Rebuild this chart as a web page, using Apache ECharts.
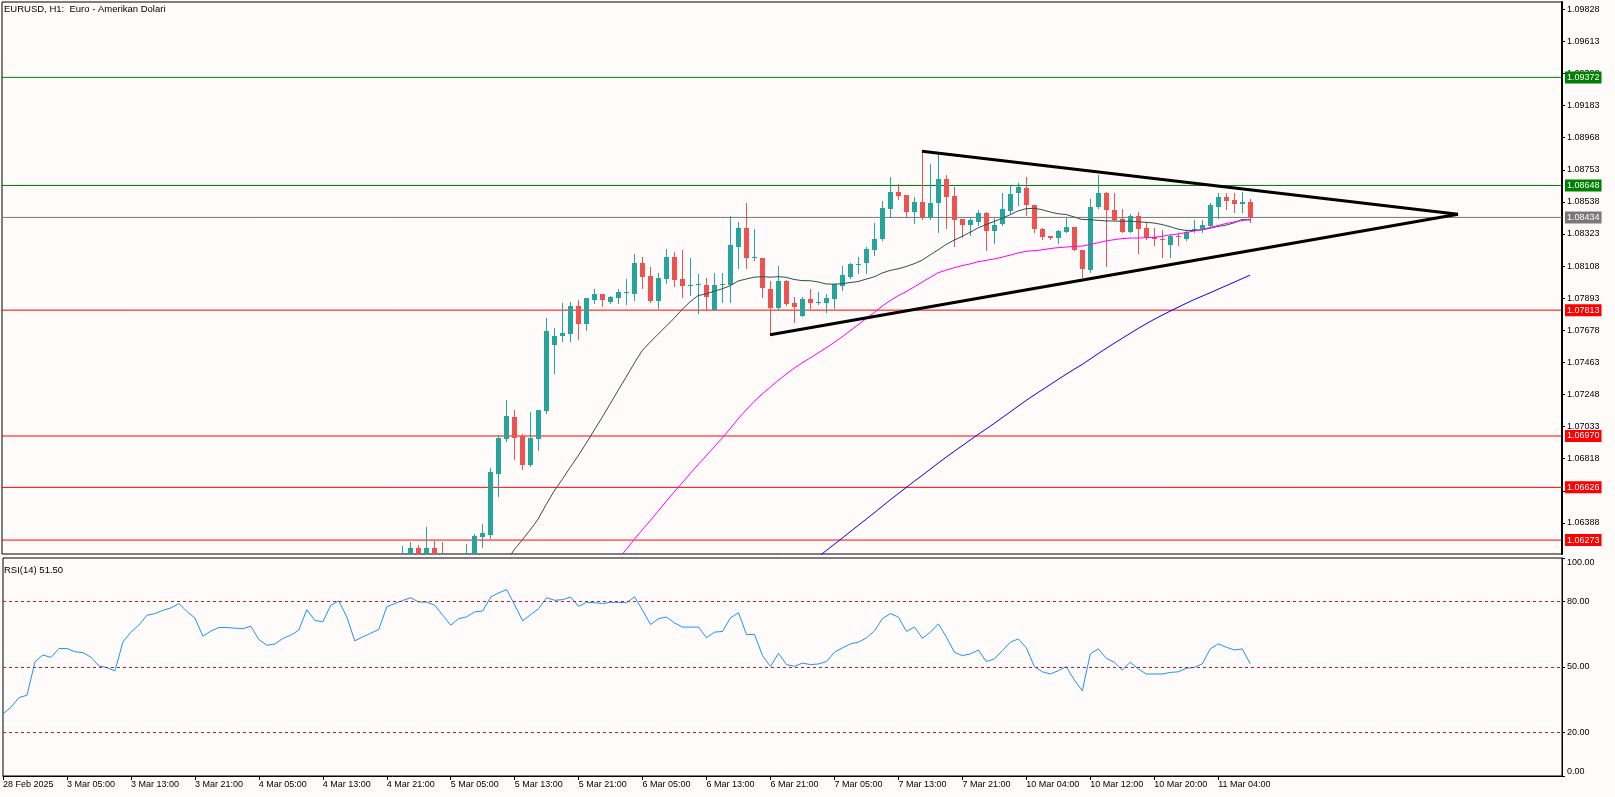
<!DOCTYPE html>
<html>
<head>
<meta charset="utf-8">
<script src="https://cdn.jsdelivr.net/npm/echarts@6/dist/echarts.min.js"></script>
<style>
html,body{margin:0;padding:0;background:#fffbfa;}
#c{width:1615px;height:797px;}
</style>
</head>
<body>
<div id="c"></div>
<script>
// ---------- DATA ----------
const sessions = [['28 Feb',21,23],['3 Mar',0,23],['4 Mar',0,23],['5 Mar',0,23],['6 Mar',0,23],['7 Mar',0,23],['9 Mar',23,23],['10 Mar',0,23],['11 Mar',0,8]];
const tickLabels = ['28 Feb 2025','3 Mar 05:00','3 Mar 13:00','3 Mar 21:00','4 Mar 05:00','4 Mar 13:00','4 Mar 21:00','5 Mar 05:00','5 Mar 13:00','5 Mar 21:00','6 Mar 05:00','6 Mar 13:00','6 Mar 21:00','7 Mar 05:00','7 Mar 13:00','7 Mar 21:00','10 Mar 04:00','10 Mar 12:00','10 Mar 20:00','11 Mar 04:00'];

const OPEN = [
1.0382,1.0378,1.0374,1.0380,1.0374,1.0381,1.0387,1.0384,1.0391,1.0399,
1.0407,1.0414,1.0429,1.0441,1.0434,1.0437,1.0449,1.0444,1.0451,1.0459,
1.0455,1.0464,1.0459,1.0467,1.0471,1.0465,1.0469,1.0474,1.0472,1.0469,
1.0476,1.0482,1.0478,1.0485,1.0490,1.0486,1.0492,1.0488,1.0495,1.0500,
1.0497,1.0505,1.0510,1.0506,1.0518,1.0530,1.0548,1.0560,1.0568,1.0575,
1.0582,1.0612,1.0622,1.0617,1.0622,1.0618,1.0614,1.0610,1.0612,1.0616,
1.06296,1.06307,1.06715,1.06950,1.07099,1.06972,1.06776,1.06950,1.07137,1.07579,
1.07642,1.07653,1.07843,1.07720,1.07881,1.07919,1.07865,1.07896,1.07932,1.07921,
1.08130,1.08044,1.07877,1.08022,1.08170,1.08022,1.07977,1.07980,1.07982,1.07814,
1.07980,1.07982,1.08238,1.08361,1.08160,1.08160,1.07955,1.07826,1.08009,1.07859,
1.07776,1.07888,1.07859,1.07859,1.07888,1.07977,1.08037,1.08122,1.08127,1.08216,
1.08287,1.08490,1.08602,1.08584,1.08468,1.08535,1.08435,1.08528,1.08691,1.08580,
1.08424,1.08384,1.08406,1.08466,1.08346,1.08390,1.08477,1.08596,1.08633,1.08517,
1.08357,1.08310,1.08294,1.08339,1.08368,1.08216,1.08082,1.08502,1.08600,1.08484,
1.08421,1.08339,1.08444,1.08365,1.08301,1.08290,1.08249,1.08310,1.08288,1.08346,
1.08355,1.08379,1.08506,1.08573,1.08551,1.08524,1.08539];
const HIGH = [
1.0386,1.0381,1.0384,1.0384,1.0385,1.0391,1.0390,1.0395,1.0403,1.0411,
1.0419,1.0434,1.0447,1.0446,1.0442,1.0455,1.0453,1.0456,1.0464,1.0462,
1.0469,1.0467,1.0471,1.0475,1.0474,1.0472,1.0477,1.0476,1.0475,1.0479,
1.0486,1.0484,1.0489,1.0494,1.0492,1.0496,1.0494,1.0499,1.0505,1.0503,
1.0509,1.0515,1.0513,1.0523,1.0536,1.0553,1.0565,1.0573,1.0580,1.0590,
1.0623,1.0626,1.0624,1.0636,1.0627,1.0626,1.0615,1.0617,1.0625,1.06311,
1.06380,1.06758,1.06977,1.07213,1.07144,1.06981,1.07131,1.07144,1.07763,1.07695,
1.07863,1.07870,1.07881,1.07896,1.07955,1.07921,1.07905,1.07955,1.08021,1.08190,
1.08170,1.08100,1.08060,1.08220,1.08200,1.08216,1.08165,1.08053,1.08031,1.08060,
1.08060,1.08444,1.08406,1.08533,1.08354,1.08162,1.08009,1.08109,1.08012,1.07904,
1.07904,1.07953,1.07937,1.07919,1.07988,1.08109,1.08131,1.08172,1.08238,1.08399,
1.08546,1.08703,1.08658,1.08586,1.08573,1.08875,1.08790,1.08859,1.08718,1.08636,
1.08426,1.08430,1.08484,1.08470,1.08428,1.08596,1.08651,1.08667,1.08707,1.08520,
1.08360,1.08312,1.08350,1.08435,1.08370,1.08218,1.08555,1.08718,1.08602,1.08595,
1.08488,1.08457,1.08473,1.08406,1.08361,1.08350,1.08316,1.08327,1.08346,1.08417,
1.08417,1.08528,1.08596,1.08600,1.08596,1.08606,1.08555];
const LOW = [
1.0372,1.0369,1.0371,1.0370,1.0372,1.0378,1.0380,1.0382,1.0388,1.0395,
1.0403,1.0411,1.0425,1.0428,1.0430,1.0433,1.0439,1.0441,1.0447,1.0450,
1.0452,1.0455,1.0456,1.0463,1.0462,1.0462,1.0466,1.0469,1.0466,1.0465,
1.0473,1.0474,1.0475,1.0482,1.0482,1.0483,1.0484,1.0485,1.0491,1.0493,
1.0494,1.0501,1.0502,1.0503,1.0514,1.0526,1.0544,1.0556,1.0563,1.0571,
1.0578,1.0608,1.0611,1.0613,1.0612,1.0609,1.0604,1.0605,1.0608,1.0612,
1.06229,1.06284,1.06570,1.06939,1.06816,1.06749,1.06769,1.06876,1.07126,1.07394,
1.07606,1.07606,1.07620,1.07680,1.07859,1.07843,1.07859,1.07859,1.07852,1.07881,
1.07963,1.07866,1.07829,1.07993,1.07977,1.07903,1.07914,1.07792,1.07814,1.07814,
1.07870,1.07870,1.08097,1.08097,1.08149,1.07904,1.07652,1.07814,1.07848,1.07736,
1.07776,1.07830,1.07855,1.07798,1.07830,1.07948,1.08026,1.08060,1.08060,1.08182,
1.08285,1.08435,1.08557,1.08435,1.08399,1.08424,1.08424,1.08339,1.08361,1.08243,
1.08305,1.08316,1.08380,1.08216,1.08261,1.08385,1.08463,1.08517,1.08450,1.08339,
1.08288,1.08292,1.08261,1.08336,1.08216,1.08037,1.08071,1.08498,1.08109,1.08415,
1.08337,1.08337,1.08194,1.08292,1.08249,1.08167,1.08167,1.08249,1.08286,1.08339,
1.08339,1.08375,1.08428,1.08488,1.08472,1.08472,1.08405];
const CLOSE = [
1.0378,1.0374,1.0380,1.0374,1.0381,1.0387,1.0384,1.0391,1.0399,1.0407,
1.0414,1.0429,1.0441,1.0434,1.0437,1.0449,1.0444,1.0451,1.0459,1.0455,
1.0464,1.0459,1.0467,1.0471,1.0465,1.0469,1.0474,1.0472,1.0469,1.0476,
1.0482,1.0478,1.0485,1.0490,1.0486,1.0492,1.0488,1.0495,1.0500,1.0497,
1.0505,1.0510,1.0506,1.0518,1.0530,1.0548,1.0560,1.0568,1.0575,1.0582,
1.0612,1.0622,1.0617,1.0622,1.0618,1.0614,1.0610,1.0612,1.0616,1.0630,
1.06322,1.06731,1.06959,1.07106,1.06959,1.06776,1.06959,1.07144,1.07673,1.07642,
1.07662,1.07843,1.07720,1.07896,1.07919,1.07881,1.07903,1.07937,1.07934,1.08130,
1.08037,1.07877,1.08031,1.08170,1.08015,1.07975,1.07980,1.07985,1.07904,1.07982,
1.07991,1.08249,1.08361,1.08160,1.08167,1.07960,1.07826,1.08009,1.07854,1.07836,
1.07888,1.07859,1.07870,1.07897,1.07986,1.08048,1.08122,1.08125,1.08220,1.08290,
1.08495,1.08602,1.08580,1.08468,1.08535,1.08435,1.08528,1.08691,1.08573,1.08417,
1.08384,1.08417,1.08462,1.08346,1.08386,1.08488,1.08589,1.08640,1.08517,1.08354,
1.08305,1.08294,1.08343,1.08368,1.08216,1.08089,1.08506,1.08600,1.08484,1.08417,
1.08339,1.08444,1.08354,1.08294,1.08288,1.08288,1.08310,1.08305,1.08339,1.08354,
1.08383,1.08517,1.08573,1.08546,1.08524,1.08537,1.08434];
const RSI = [
28.5,31.5,36.0,37.0,52.4,55.5,54.4,58.5,58.5,57.0,
56.6,54.5,50.5,49.7,48.2,61.5,66.0,69.2,73.7,74.5,
76.0,77.1,79.1,75.5,72.5,64.1,66.5,68.1,68.1,67.8,
67.6,68.7,62.6,60.0,60.5,63.1,64.6,66.9,76.3,71.4,
70.7,78.3,80.3,73.0,62.0,63.8,65.5,67.2,77.6,79.1,
80.5,81.8,79.8,79.8,78.3,73.8,69.2,72.2,73.0,75.3,
75.7,82.1,84.0,85.5,78.5,71.2,74.0,76.8,81.8,80.6,
80.9,82.1,77.8,79.7,79.5,79.1,79.7,79.6,79.5,82.2,
76.0,69.5,72.2,72.9,70.2,68.3,68.3,68.3,63.4,66.0,
66.3,72.6,74.9,64.9,64.9,55.2,50.2,56.3,51.1,50.3,
51.8,51.1,51.4,52.5,56.8,58.8,60.6,61.4,63.4,66.5,
72.2,74.5,72.9,66.3,68.3,63.2,66.0,69.8,63.7,56.8,
55.2,56.0,57.8,52.5,53.7,57.5,61.4,62.9,58.8,50.2,
47.8,46.8,48.3,50.2,44.0,39.1,56.0,58.3,54.0,52.2,
48.6,52.2,49.1,46.8,46.8,46.8,47.5,47.8,49.4,49.8,
51.4,58.3,60.6,59.1,57.8,58.3,51.5];

const priceTicks = [1.09828,1.09613,1.09398,1.09183,1.08968,1.08753,1.08538,1.08323,1.08108,1.07893,1.07678,1.07463,1.07248,1.07033,1.06818,1.06603,1.06388];
const rsiTicks = [0,20,50,80,100];
const rsiLevels = [80,50,20];
const greenLevels = [1.09372,1.08648];
const redLevels = [1.07813,1.06970,1.06626,1.06273];
const bidLevel = 1.08434;
const trendUpper = [[115,1.08877],[182,1.08455]];
const trendLower = [[96,1.07648],[182,1.08455]];
const TOTAL_SLOTS = 196;

// ---------- BUILD ----------
const categories = [];
sessions.forEach(([d,h0,h1]) => { for (let h=h0; h<=h1; h++) categories.push(d+' '+String(h).padStart(2,'0')+':00'); });
while (categories.length < TOTAL_SLOTS) categories.push('');

const candleData = OPEN.map((o,i) => [i, o, CLOSE[i], LOW[i], HIGH[i]]);
function sma(p){
  return CLOSE.map((_,i) => {
    if (i < p-1) return null;
    let s = 0; for (let k=i-p+1; k<=i; k++) s += CLOSE[k];
    return +(s/p).toFixed(6);
  });
}
const FONT = 'Liberation Sans, Arial, sans-serif';
const BG = '#fffbfa';
const UP = '#26a69a', DOWN = '#ef5350';
const GREEN = '#008000', RED = '#ff0000', GRAY = '#787878';
const lastTick = (tickLabels.length-1)*8;
const showTick = (i) => i % 8 === 0 && i <= lastTick;

function levelSeries(v, color){
  return {
    type: 'line', xAxisIndex: 2, yAxisIndex: 0, silent: true, z: 3,
    data: [[0, v], [TOTAL_SLOTS-1, v]], symbol: 'none',
    lineStyle: {color: color, width: 1},
    endLabel: {show: true, formatter: v.toFixed(5), distance: 3,
      color: '#fff', backgroundColor: color, padding: [2,2,1,2],
      fontSize: 9, fontFamily: FONT}
  };
}
const levelSeriesList = greenLevels.map(v => levelSeries(v, GREEN))
  .concat(redLevels.map(v => levelSeries(v, RED)))
  .concat([levelSeries(bidLevel, GRAY)]);

function renderCandle(params, api){
  const i = api.value(0), o = api.value(1), c = api.value(2), l = api.value(3), h = api.value(4);
  const pO = api.coord([i, o]), pC = api.coord([i, c]);
  const pL = api.coord([i, l]), pH = api.coord([i, h]);
  const cx = Math.round(pO[0]);
  const color = c >= o ? UP : DOWN;
  const top = Math.round(Math.min(pO[1], pC[1]));
  const bot = Math.round(Math.max(pO[1], pC[1]));
  return {type: 'group', children: [
    {type: 'line', shape: {x1: cx + 0.5, y1: Math.round(pH[1]), x2: cx + 0.5, y2: Math.round(pL[1]) + 1},
      style: {stroke: color, lineWidth: 1}},
    {type: 'rect', shape: {x: cx - 2, y: top, width: 5, height: Math.max(1, bot - top)},
      style: {fill: color}}
  ]};
}

const chart = echarts.init(document.getElementById('c'));
chart.setOption({
  backgroundColor: BG,
  animation: false,
  grid: [
    {left: 2, right: 53, top: 2, height: 552, show: true, borderColor: '#000', borderWidth: 1},
    {left: 2, right: 53, top: 558, height: 218, show: true, borderColor: '#000', borderWidth: 1}
  ],
  xAxis: [
    {type: 'category', gridIndex: 0, data: categories, boundaryGap: false, show: false},
    {type: 'category', gridIndex: 1, data: categories, boundaryGap: false,
      axisLine: {show: true, onZero: false, lineStyle: {color: '#000', width: 1}},
      axisTick: {show: true, interval: showTick, length: 4, lineStyle: {color: '#000'}},
      axisLabel: {show: true, interval: showTick, formatter: (v,i) => tickLabels[i/8] || '',
        align: 'left', color: '#000', fontSize: 9, fontFamily: FONT, margin: 4},
      splitLine: {show: false}},
    {type: 'value', gridIndex: 0, min: 0, max: TOTAL_SLOTS-1, show: false,
      axisLine: {onZero: false}}
  ],
  yAxis: [
    {type: 'value', gridIndex: 0, position: 'right', min: 1.061797, max: 1.098769,
      axisLine: {show: true, onZero: false, lineStyle: {color: '#000', width: 2}},
      axisTick: {show: true, length: 3, customValues: priceTicks, lineStyle: {color: '#000'}},
      axisLabel: {show: true, customValues: priceTicks, formatter: v => v.toFixed(5),
        color: '#000', fontSize: 9, fontFamily: FONT, margin: 5},
      splitLine: {show: false}},
    {type: 'value', gridIndex: 1, position: 'right', min: 0, max: 100,
      axisLine: {show: true, onZero: false, lineStyle: {color: '#000', width: 1}},
      axisTick: {show: true, length: 3, customValues: rsiTicks, lineStyle: {color: '#000'}},
      axisLabel: {show: true, customValues: rsiTicks, formatter: v => v.toFixed(2),
        color: '#000', fontSize: 9, fontFamily: FONT, margin: 5,
        verticalAlignMaxLabel: 'top', verticalAlignMinLabel: 'bottom'},
      splitLine: {show: false}}
  ],
  graphic: [
    {type: 'text', left: 4, top: 4, z: 100, style: {text: 'EURUSD, H1:  Euro - Amerikan Dolari', font: '9.5px ' + FONT, fill: '#000'}},
    {type: 'text', left: 4, top: 565, z: 100, style: {text: 'RSI(14) ' + RSI[RSI.length-1].toFixed(2), font: '9.5px ' + FONT, fill: '#000'}}
  ],
  series: levelSeriesList.concat([
    {type: 'custom', xAxisIndex: 0, yAxisIndex: 0, data: candleData, clip: true, z: 4,
      encode: {x: 0, y: [1,2,3,4]}, renderItem: renderCandle},
    {type: 'line', xAxisIndex: 0, yAxisIndex: 0, data: sma(20), symbol: 'none', clip: true, z: 5, lineStyle: {color: '#2f4f4f', width: 1}},
    {type: 'line', xAxisIndex: 0, yAxisIndex: 0, data: sma(50), symbol: 'none', clip: true, z: 5, lineStyle: {color: '#ff00ff', width: 1}},
    {type: 'line', xAxisIndex: 0, yAxisIndex: 0, data: sma(100), symbol: 'none', clip: true, z: 5, lineStyle: {color: '#0000ff', width: 1}},
    {type: 'line', xAxisIndex: 2, yAxisIndex: 0, data: trendUpper, symbol: 'none', z: 6, lineStyle: {color: '#000', width: 3}},
    {type: 'line', xAxisIndex: 2, yAxisIndex: 0, data: trendLower, symbol: 'none', z: 6, lineStyle: {color: '#000', width: 3}},
    {type: 'line', xAxisIndex: 1, yAxisIndex: 1, data: RSI, symbol: 'none', lineStyle: {color: '#1e90ff', width: 1},
      markLine: {silent: true, symbol: 'none', animation: false, label: {show: false},
        lineStyle: {color: '#b22222', type: [3,3], width: 1},
        data: rsiLevels.map(v => ({yAxis: v}))}}
  ])
});
</script>
</body>
</html>
